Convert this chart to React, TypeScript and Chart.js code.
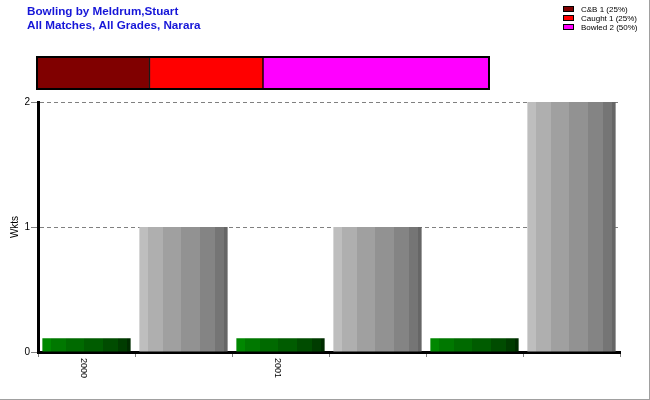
import { useEffect, useRef } from 'react';
import { Chart, registerables } from 'chart.js';

Chart.register(...registerables);

const titleLines = ['Bowling by Meldrum,Stuart', 'All Matches, All Grades, Narara'];
const categories = ['2000', '', '2001', '', '', ''];
const wickets = [0.11, 1, 0.11, 1, 0.11, 2];
const barKinds = ['green', 'gray', 'green', 'gray', 'green', 'gray'];
const yAxisTitle = 'Wkts';
const dismissalLabels = ['C&B 1 (25%)', 'Caught 1 (25%)', 'Bowled 2 (50%)'];
const dismissalCounts = [1, 1, 2];
const dismissalColors = ['#800000', '#ff0000', '#ff00ff'];

const greenShades = ['#008800', '#007800', '#006a00', '#005c00', '#004c00', '#003c00', '#002c00'];
const grayShades = ['#bebebe', '#afafaf', '#a0a0a0', '#929292', '#848484', '#757575', '#666666'];
const bandWidths = [9, 15, 18, 18, 15, 9, 4];
const BAR_FRACTION = 0.91;
const FONT = '"Liberation Sans", Arial, sans-serif';

const bandTotal = bandWidths.reduce((a, b) => a + b, 0);

function barFill(c: any) {
  const chart = c.chart;
  const xs = chart.scales && chart.scales.x;
  const i = c.dataIndex;
  const shades = barKinds[i] === 'green' ? greenShades : grayShades;
  if (!xs || i == null || !isFinite(xs.width) || xs.width <= 0) return shades[3];
  const cx = xs.getPixelForValue(i);
  const w = (xs.width / categories.length) * BAR_FRACTION;
  const g = chart.ctx.createLinearGradient(cx - w / 2, 0, cx + w / 2, 0);
  let acc = 0;
  shades.forEach((col, k) => {
    g.addColorStop(Math.min(acc / bandTotal, 1), col);
    acc += bandWidths[k];
    g.addColorStop(Math.min(acc / bandTotal, 1), col);
  });
  return g;
}

const headerPlugin = {
  id: 'header',
  afterDraw(chart: any) {
    const ctx = chart.ctx;
    ctx.save();
    // title
    ctx.fillStyle = '#1616d8';
    ctx.font = `bold 11.7px ${FONT}`;
    ctx.textAlign = 'left';
    ctx.textBaseline = 'middle';
    titleLines.forEach((t, i) => ctx.fillText(t, 27, 12 + i * 14));
    // legend
    ctx.font = `8px ${FONT}`;
    dismissalLabels.forEach((t, i) => {
      const y = 9 + i * 9;
      ctx.fillStyle = dismissalColors[i];
      ctx.fillRect(563, y - 3, 11, 6);
      ctx.strokeStyle = '#000';
      ctx.lineWidth = 1;
      ctx.strokeRect(563.5, y - 2.5, 10, 5);
      ctx.fillStyle = '#000';
      ctx.fillText(t, 581, y + 0.5);
    });
    // x tick labels, rotated clockwise
    const xs = chart.scales.x;
    ctx.font = `9px ${FONT}`;
    ctx.fillStyle = '#000';
    categories.forEach((lab, i) => {
      if (!lab) return;
      const px = xs.getPixelForValue(i);
      ctx.save();
      ctx.translate(px - 3, xs.top + 6);
      ctx.rotate(Math.PI / 2);
      ctx.textAlign = 'left';
      ctx.textBaseline = 'middle';
      ctx.fillText(lab, 0, 0);
      ctx.restore();
    });
    ctx.restore();
  },
};

const framePlugin = {
  id: 'frame',
  afterDraw(chart: any) {
    const { left, top, right, bottom } = chart.chartArea;
    const ctx = chart.ctx;
    ctx.save();
    ctx.strokeStyle = '#000';
    ctx.lineWidth = 2;
    ctx.strokeRect(left + 1, top + 1, right - left - 2, bottom - top - 2);
    ctx.restore();
  },
};

export default function App() {
  const mainRef = useRef<HTMLCanvasElement | null>(null);
  const stripRef = useRef<HTMLCanvasElement | null>(null);

  useEffect(() => {
    if (!mainRef.current || !stripRef.current) return;
    const main = new Chart(mainRef.current, {
      type: 'bar',
      data: {
        labels: categories,
        datasets: [
          {
            data: wickets,
            backgroundColor: barFill as any,
            borderWidth: 0,
            barPercentage: BAR_FRACTION,
            categoryPercentage: 1,
          },
        ],
      },
      options: {
        responsive: false,
        animation: false,
        events: [],
        layout: { padding: { top: 102, right: 29, bottom: 0, left: 0 } },
        plugins: {
          legend: { display: false },
          title: { display: false },
          tooltip: { enabled: false },
        },
        scales: {
          x: {
            grid: { display: true, drawOnChartArea: false, drawTicks: true, tickLength: 5, color: '#808080' },
            border: { display: true, color: '#000', width: 3 },
            ticks: { display: false },
            afterFit: (s: any) => {
              s.height = 47;
            },
          },
          y: {
            min: 0,
            max: 2,
            ticks: { stepSize: 1, color: '#000', padding: 1, font: { size: 10, family: FONT } },
            grid: { color: '#808080', tickLength: 7 },
            border: { display: true, color: '#000', width: 3, dash: [4, 3] },
            title: {
              display: true,
              text: yAxisTitle,
              color: '#000',
              font: { size: 10, family: FONT },
              padding: { top: 9, bottom: 0 },
            },
            afterFit: (s: any) => {
              s.width = 38;
            },
          },
        },
      },
      plugins: [headerPlugin],
    });

    const strip = new Chart(stripRef.current, {
      type: 'bar',
      data: {
        labels: ['Dismissals'],
        datasets: dismissalLabels.map((l, i) => ({
          label: l,
          data: [dismissalCounts[i]],
          backgroundColor: dismissalColors[i],
          borderColor: '#000',
          borderWidth: 1,
          borderSkipped: false,
          barPercentage: 1,
          categoryPercentage: 1,
        })),
      },
      options: {
        indexAxis: 'y',
        responsive: false,
        animation: false,
        events: [],
        layout: { padding: 0 },
        plugins: { legend: { display: false }, tooltip: { enabled: false }, title: { display: false } },
        scales: {
          x: { stacked: true, display: false, min: 0, max: dismissalCounts.reduce((a, b) => a + b, 0) },
          y: { stacked: true, display: false },
        },
      },
      plugins: [framePlugin],
    });

    return () => {
      main.destroy();
      strip.destroy();
    };
  }, []);

  return (
    <div
      style={{
        position: 'absolute',
        left: 0,
        top: 0,
        width: 650,
        height: 400,
        boxSizing: 'border-box',
        borderRight: '1px solid #a0a0a0',
        borderBottom: '1px solid #a0a0a0',
        background: '#fff',
        overflow: 'hidden',
      }}
    >
      <canvas ref={mainRef} width={649} height={399} style={{ position: 'absolute', left: 0, top: 0 }} />
      <canvas ref={stripRef} width={454} height={34} style={{ position: 'absolute', left: 36, top: 56 }} />
    </div>
  );
}
